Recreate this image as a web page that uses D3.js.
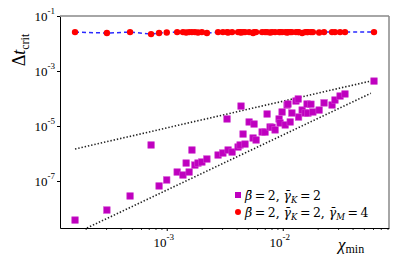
<!DOCTYPE html>
<html>
<head>
<meta charset="utf-8">
<script src="https://cdn.jsdelivr.net/npm/d3@7"></script>
<style>
  body { margin: 0; background: #fff; }
  text { font-family: "Liberation Serif", "DejaVu Serif", serif; fill: #000; }
</style>
</head>
<body>
<div id="chart"></div>
<script>
// chi_min values shared by both series
const chi = [1.62e-4, 3.05e-4, 4.83e-4, 7.33e-4, 8.59e-4, 1.00e-3, 1.23e-3, 1.38e-3, 1.47e-3, 1.56e-3,
  1.65e-3, 1.75e-3, 1.86e-3, 2.01e-3, 2.22e-3, 2.77e-3, 3.05e-3, 3.31e-3, 3.38e-3, 3.66e-3,
  4.12e-3, 4.29e-3, 4.37e-3, 4.55e-3, 4.73e-3, 5.13e-3, 5.55e-3, 5.66e-3, 5.89e-3, 6.64e-3,
  7.04e-3, 7.33e-3, 7.78e-3, 8.10e-3, 8.59e-3, 9.30e-3, 9.48e-3, 9.87e-3, 1.05e-2, 1.09e-2,
  1.11e-2, 1.16e-2, 1.20e-2, 1.30e-2, 1.36e-2, 1.37e-2, 1.47e-2, 1.56e-2, 1.62e-2, 1.65e-2,
  1.75e-2, 1.82e-2, 2.06e-2, 2.27e-2, 2.66e-2, 2.82e-2, 3.12e-2, 3.44e-2, 6.12e-2];

// beta=2, gammaK=2 (squares)
const dtSquare = [3.8e-9, 8.8e-9, 2.85e-8, 2.04e-6, 6.6e-8, 1.09e-7, 2.12e-7, 1.65e-7, 4.5e-7, 2.12e-7,
  1.34e-6, 3.8e-7, 4.5e-7, 4.9e-7, 6.3e-7, 8.8e-7, 1.04e-6, 1.8e-5, 1.34e-6, 1.13e-6,
  1.72e-6, 2.04e-6, 5.3e-5, 5.1e-6, 2.2e-6, 1.4e-5, 3.66e-6, 1.18e-5, 3.1e-6, 6.05e-6,
  6.0e-6, 2.73e-5, 9.2e-6, 9.0e-6, 7.2e-6, 1.8e-5, 1.29e-5, 3.23e-5, 1.09e-5, 5.8e-5,
  6.3e-5, 1.4e-5, 2.97e-5, 8.1e-5, 9.6e-5, 2.12e-5, 3.8e-5, 2.97e-5, 6.3e-5, 2.95e-5,
  6.2e-5, 3.23e-5, 3.8e-5, 6.9e-5, 5.8e-5, 8.8e-5, 1.23e-4, 1.46e-4, 4.3e-4];

// beta=2, gammaK=2, gammaM=4 (circles)
const dtCircle = [0.026, 0.024, 0.026, 0.022, 0.024, 0.025, 0.026, 0.026, 0.025, 0.026,
  0.026, 0.026, 0.025, 0.026, 0.024, 0.026, 0.026, 0.026, 0.025, 0.026,
  0.026, 0.026, 0.025, 0.026, 0.026, 0.026, 0.024, 0.026, 0.026, 0.026,
  0.026, 0.026, 0.025, 0.026, 0.026, 0.026, 0.026, 0.026, 0.026, 0.025,
  0.026, 0.026, 0.026, 0.026, 0.026, 0.026, 0.024, 0.026, 0.026, 0.026,
  0.026, 0.026, 0.025, 0.026, 0.026, 0.026, 0.026, 0.026, 0.026];

// dotted guide lines (endpoints)
const guideUpper = [[1.62e-4, 1.46e-6], [5.75e-2, 4.33e-4]];
const guideLower = [[1.62e-4, 1.22e-9], [5.75e-2, 1.55e-4]];

const xTicks = [1e-3, 1e-2];
const xTickLabels = ["-3", "-2"];
const yTicks = [1e-1, 1e-3, 1e-5, 1e-7];
const yTickLabels = ["-1", "-3", "-5", "-7"];

const W = 399, H = 266;
const margin = { top: 16, right: 10, bottom: 38, left: 60 };
const width = W - margin.left - margin.right,
      height = H - margin.top - margin.bottom;

const svg = d3.select("#chart").append("svg")
    .attr("width", W).attr("height", H);
const g = svg.append("g").attr("transform", `translate(${margin.left},${margin.top})`);

const x = d3.scaleLog().domain([Math.pow(10, -3.92), Math.pow(10, -1.084)]).range([0, width]);
const y = d3.scaleLog().domain([Math.pow(10, -8.709), 1e-1]).range([height, 0]);

g.append("clipPath").attr("id", "clip")
  .append("rect").attr("width", width).attr("height", height);

// x axis: minor ticks then major ticks
const minorX = [];
for (let e = -4; e <= -2; e++) for (let m = 2; m <= 9; m++) {
  const v = m * Math.pow(10, e);
  if (v > x.domain()[0] && v < x.domain()[1]) minorX.push(v);
}
g.append("g").attr("transform", `translate(0,${height})`)
  .call(d3.axisBottom(x).tickValues(minorX).tickFormat("").tickSize(2))
  .call(a => a.select(".domain").remove())
  .call(a => a.selectAll("line").attr("stroke", "#333"));
g.append("g").attr("transform", `translate(0,${height})`)
  .call(d3.axisBottom(x).tickValues(xTicks).tickFormat("").tickSize(3).tickSizeOuter(0))
  .call(a => a.select(".domain").attr("stroke", "#000"));
xTicks.forEach((v, i) => {
  const t = g.append("text").attr("x", x(v) - 3).attr("y", height + 19)
    .attr("text-anchor", "middle").attr("font-size", 13);
  t.append("tspan").text("10");
  t.append("tspan").attr("dy", -7).attr("font-size", 9).text(xTickLabels[i]);
});

// y axis
g.append("g")
  .call(d3.axisLeft(y).tickValues(yTicks).tickFormat("").tickSize(3).tickSizeOuter(0))
  .call(a => a.select(".domain").attr("stroke", "#000"));
yTicks.forEach((v, i) => {
  const t = g.append("text").attr("x", -5).attr("y", y(v) + 5)
    .attr("text-anchor", "end").attr("font-size", 13);
  t.append("tspan").text("10");
  t.append("tspan").attr("dy", -7).attr("font-size", 9).text(yTickLabels[i]);
});

// top/right grey spines
g.append("line").attr("x1", 0).attr("x2", width).attr("y1", 0).attr("y2", 0)
  .attr("stroke", "#888").attr("stroke-width", 1.5);
g.append("line").attr("x1", width).attr("x2", width).attr("y1", 0).attr("y2", height)
  .attr("stroke", "#888").attr("stroke-width", 1.5);

const plot = g.append("g").attr("clip-path", "url(#clip)");
const line = d3.line().x(d => x(d[0])).y(d => y(d[1]));

// dotted guides
[guideUpper, guideLower].forEach(seg => {
  plot.append("path").datum(seg).attr("d", line)
    .attr("fill", "none").attr("stroke", "#222")
    .attr("stroke-width", 1.6).attr("stroke-dasharray", "1.4,1.9");
});

// squares
const sq = 6.5;
plot.selectAll("rect.sq").data(chi.map((c, i) => [c, dtSquare[i]])).join("rect")
  .attr("class", "sq")
  .attr("x", d => x(d[0]) - sq / 2).attr("y", d => y(d[1]) - sq / 2)
  .attr("width", sq).attr("height", sq)
  .attr("fill", "#bf00bf").attr("stroke", "#d040d0").attr("stroke-width", 0.6);

// dashed blue line + red circles
const circData = chi.map((c, i) => [c, dtCircle[i]]);
plot.append("path").datum(circData).attr("d", line)
  .attr("fill", "none").attr("stroke", "#2a2aff").attr("stroke-width", 1.5)
  .attr("stroke-dasharray", "4,3");
plot.selectAll("circle.rc").data(circData).join("circle")
  .attr("class", "rc")
  .attr("cx", d => x(d[0])).attr("cy", d => y(d[1])).attr("r", 3.2)
  .attr("fill", "#ff0000");

// legend
const lg = svg.append("g");
lg.append("rect").attr("x", 235).attr("y", 192).attr("width", 6).attr("height", 6).attr("fill", "#bf00bf");
lg.append("circle").attr("cx", 238).attr("cy", 212).attr("r", 3).attr("fill", "#ff0000");
function legendText(yy, parts) {
  const t = lg.append("text").attr("x", 245).attr("y", yy)
    .attr("font-size", 12.5).style("font-family", "'DejaVu Serif', serif");
  parts.forEach(p => {
    const s = t.append("tspan").text(p.t);
    if (p.i) s.attr("font-style", "italic");
    if (p.sub) s.attr("font-size", 8.5).attr("dy", 3);
    if (p.up) s.attr("dy", -3);
  });
}
const eq = "\u2009=\u2009";
legendText(200, [
  { t: "β\u0304", i: 1 }, { t: eq + "2, " }, { t: "γ\u0304", i: 1 }, { t: "K", i: 1, sub: 1 },
  { t: eq + "2", up: 1 }
]);
legendText(217, [
  { t: "β\u0304", i: 1 }, { t: eq + "2, " }, { t: "γ\u0304", i: 1 }, { t: "K", i: 1, sub: 1 },
  { t: eq + "2, ", up: 1 }, { t: "γ\u0304", i: 1 }, { t: "M", i: 1, sub: 1 }, { t: eq + "4", up: 1 }
]);

// axis titles
const yt = svg.append("text").attr("transform", "translate(25,50) rotate(-90)")
  .attr("text-anchor", "middle").attr("font-size", 18);
yt.append("tspan").text("Δ");
yt.append("tspan").attr("font-style", "italic").text("t");
yt.append("tspan").attr("font-size", 12).attr("dy", 4).text("crit");

const xt = svg.append("text").attr("x", 338).attr("y", 250).attr("font-size", 17);
xt.append("tspan").attr("font-style", "italic").text("χ");
xt.append("tspan").attr("font-size", 12).attr("dy", 3).text("min");
</script>
</body>
</html>
